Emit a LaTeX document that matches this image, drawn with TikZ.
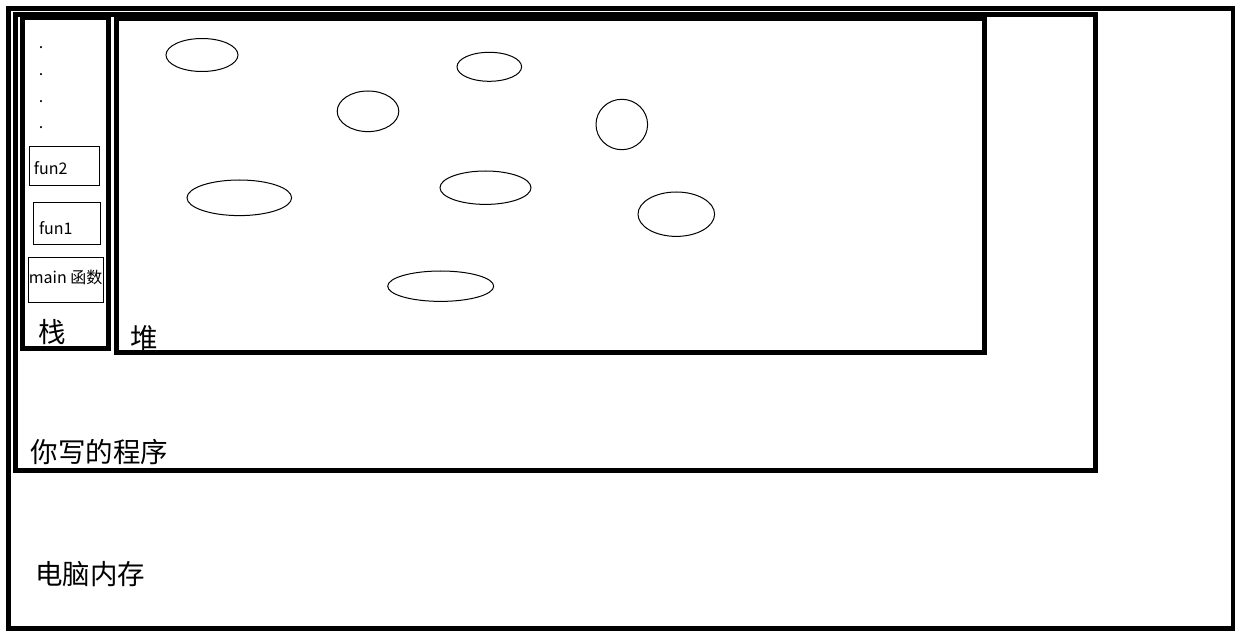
\documentclass[tikz,border=0pt]{standalone}
\usepackage{fontspec}
\setmainfont{Noto Sans CJK SC}
\begin{document}
\begin{tikzpicture}[x=1pt,y=-1pt,
  thickbox/.style={draw=black,line width=5pt},
  framebox/.style={draw=black,line width=0.9pt},
  blob/.style={draw=black,line width=1pt},
  bigtxt/.style={inner sep=0pt,font=\fontsize{27.5}{31}\selectfont},
  smalltxt/.style={inner sep=0pt,anchor=base west,font=\fontsize{16}{19}\selectfont},
]
\useasboundingbox (0,0) rectangle (1235,636);
\fill[white] (0,0) rectangle (1235,636);
% computer memory
\draw[draw=black,line width=4.5pt] (8.5,8.5) rectangle (1233,628.5);
% your program
\draw[thickbox] (15.3,14.5) rectangle (1095.5,470);
% heap
\draw[thickbox] (116.5,19) rectangle (984.5,353);
% stack
\draw[thickbox] (22.5,17.5) rectangle (108.5,348.5);
% stack frames
\draw[framebox] (29.3,146) rectangle (99.3,185);
\draw[framebox] (33.3,202) rectangle (100.7,244);
\draw[framebox] (28.3,257) rectangle (103.7,302);
\node[smalltxt] (f2) at (33.8,175) {fun2};
\node[smalltxt] (f1) at (38.8,234.3) {fun1};
\node[smalltxt] (mn) at (28.6,283.3) {main 函数};
% dots
\node[smalltxt] (d1) at (38.6,49) {.};
\node[smalltxt] (d2) at (38.6,75.6) {.};
\node[smalltxt] (d3) at (38.6,102.3) {.};
\node[smalltxt] (d4) at (38.6,129) {.};
% heap objects
\draw[blob] (202,55) ellipse [x radius=36, y radius=16.5];
\draw[blob] (489.3,66.8) ellipse [x radius=32.3, y radius=14.5];
\draw[blob] (368,111.3) ellipse [x radius=30.8, y radius=20.3];
\draw[blob] (621.8,124.5) ellipse [x radius=25.8, y radius=25.2];
\draw[blob] (239.3,197.8) ellipse [x radius=52.3, y radius=17.8];
\draw[blob] (485.5,187.7) ellipse [x radius=45.5, y radius=16.7];
\draw[blob] (676.3,214.2) ellipse [x radius=38.3, y radius=22.2];
\draw[blob] (440.7,286.2) ellipse [x radius=53, y radius=15.2];
% labels
\node[bigtxt] (zhan) at (52,332) {栈};
\node[bigtxt] (dui) at (144.5,338) {堆};
\node[bigtxt] (prog) at (99.5,452.5) {你写的程序};
\node[bigtxt] (mem) at (90,574.5) {电脑内存};
\end{tikzpicture}
\end{document}
